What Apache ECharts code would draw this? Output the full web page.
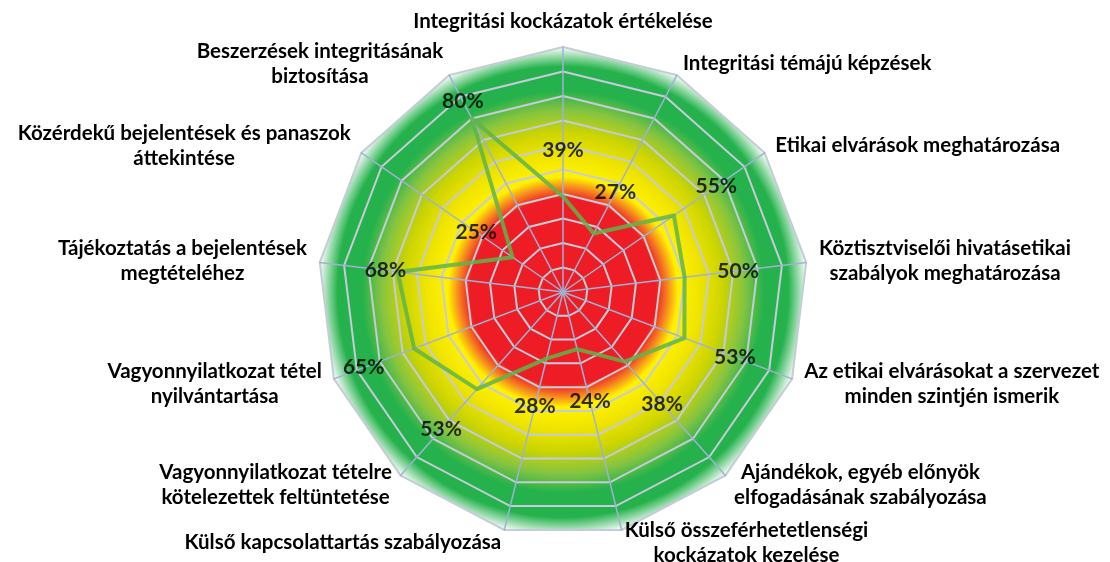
<!DOCTYPE html>
<html>
<head>
<meta charset="utf-8">
<script src="https://cdn.jsdelivr.net/npm/echarts@6/dist/echarts.min.js"></script>
<style>
html,body{margin:0;padding:0;background:#fff;}
#c{width:1110px;height:562px;}
</style>
</head>
<body>
<div id="c"></div>
<script>
// ---- data (clockwise from the top) ----
const categories = [
  'Integritási kockázatok értékelése',
  'Integritási témájú képzések',
  'Etikai elvárások meghatározása',
  'Köztisztviselői hivatásetikai\nszabályok meghatározása',
  'Az etikai elvárásokat a szervezet\nminden szintjén ismerik',
  'Ajándékok, egyéb előnyök\nelfogadásának szabályozása',
  'Külső összeférhetetlenségi\nkockázatok kezelése',
  'Külső kapcsolattartás szabályozása',
  'Vagyonnyilatkozat tételre\nkötelezettek feltüntetése',
  'Vagyonnyilatkozat tétel\nnyilvántartása',
  'Tájékoztatás a bejelentések\nmegtételéhez',
  'Közérdekű bejelentések és panaszok\náttekintése',
  'Beszerzések integritásának\nbiztosítása'
];
const values = [39, 27, 55, 50, 53, 38, 24, 28, 53, 65, 68, 25, 80];
const axisMax = 100;

// ---- layout / style ----
const CX = 563, CY = 292, R = 245;
const FONT = 'Lato';
// radial distance (fraction of radius) between each point and its value label
const labelGap = [0.19, 0.19, 0.21, 0.22, 0.22, 0.23, 0.22, 0.20, 0.22, 0.22, 0.05, 0.18, 0.08];

// radar draws indicators counter-clockwise; reorder so they run clockwise
const n = categories.length;
const order = [0];
for (let i = n - 1; i >= 1; i--) order.push(i);

const indicator = order.map(i => ({ name: categories[i], min: 0, max: axisMax }));
const radarValues = order.map(i => values[i]);

const grad = {
  type: 'radial', x: CX, y: CY, r: R, global: true,
  colorStops: [
    { offset: 0.00, color: '#ee1c24' },
    { offset: 0.38, color: '#ee1c24' },
    { offset: 0.425, color: '#f58220' },
    { offset: 0.47, color: '#fff200' },
    { offset: 0.55, color: '#f2e600' },
    { offset: 0.65, color: '#cdd500' },
    { offset: 0.74, color: '#86c441' },
    { offset: 0.82, color: '#25b24c' },
    { offset: 0.92, color: '#25b24c' },
    { offset: 1.00, color: '#ffffff' }
  ]
};

const chart = echarts.init(document.getElementById('c'), null, { renderer: 'canvas' });
chart.setOption({
  backgroundColor: '#ffffff',
  animation: false,
  radar: {
    center: [CX, CY],
    radius: R,
    startAngle: 90,
    splitNumber: 10,
    shape: 'polygon',
    nameGap: 13,
    indicator: indicator,
    axisName: {
      color: '#000',
      fontFamily: FONT,
      fontWeight: 'bold',
      fontSize: 20.5,
      formatter: function (name) {
        return name.split('\n').map(l => '{c|' + l + '}').join('\n');
      },
      rich: {
        c: { align: 'center', fontFamily: FONT, fontWeight: 'bold', fontSize: 20.5, color: '#000', lineHeight: 25 }
      }
    },
    splitLine: { lineStyle: { color: '#c6cbd9', width: 2 } },
    splitArea: { show: true, areaStyle: { color: [grad] } },
    axisLine: { lineStyle: { color: '#9fb2d4', width: 1.5 } },
    axisTick: { show: false },
    axisLabel: { show: false }
  },
  polar: { center: [CX, CY], radius: R },
  angleAxis: { type: 'value', min: 0, max: n, startAngle: 90, clockwise: true, show: false },
  radiusAxis: { type: 'value', min: 0, max: 1, show: false },
  series: [
    {
      type: 'radar',
      symbol: 'none',
      lineStyle: { color: 'rgba(95,180,75,0.85)', width: 4 },
      data: [{ value: radarValues }]
    },
    {
      type: 'scatter',
      coordinateSystem: 'polar',
      symbolSize: 1,
      itemStyle: { color: 'rgba(0,0,0,0)' },
      silent: true,
      data: values.map((v, i) => [v / axisMax + labelGap[i], i]),
      label: {
        show: true,
        position: 'inside',
        color: '#000',
        fontFamily: FONT,
        fontWeight: 'bold',
        fontSize: 21,
        formatter: p => values[p.dataIndex] + '%'
      }
    }
  ]
});
</script>
</body>
</html>
